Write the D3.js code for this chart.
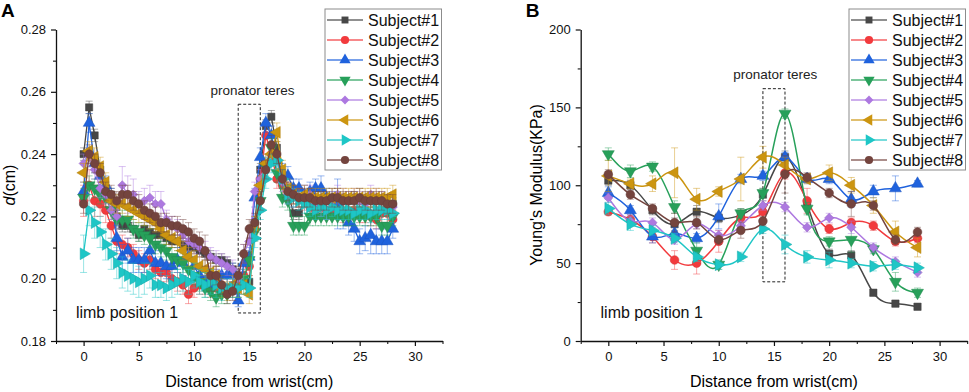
<!DOCTYPE html>
<html>
<head>
<meta charset="utf-8">
<script src="https://cdn.jsdelivr.net/npm/d3@7"></script>
<style>
body { margin: 0; background: #fff; }
svg { font-family: "Liberation Sans", Arial, sans-serif; }
</style>
</head>
<body>
<svg id="chart" width="969" height="392"></svg>
<script>
// ---- data ----
const subjects = ["Subject#1", "Subject#2", "Subject#3", "Subject#4", "Subject#5", "Subject#6", "Subject#7", "Subject#8"];

// panel A: thickness d(cm), measured every 0.5 cm
const posA = [0, 0.5, 1, 1.5, 2, 2.5, 3, 3.5, 4, 4.5, 5, 5.5, 6, 6.5, 7, 7.5, 8, 8.5, 9, 9.5,
  10, 10.5, 11, 11.5, 12, 12.5, 13, 13.5, 14, 14.5, 15, 15.5, 16, 16.5, 17, 17.5, 18, 18.5, 19, 19.5,
  20, 20.5, 21, 21.5, 22, 22.5, 23, 23.5, 24, 24.5, 25, 25.5, 26, 26.5, 27, 27.5, 28];

const thickS1 = [0.240,0.255,0.246,0.235,0.229,0.227,0.220,0.217,0.217,0.216,
  0.214,0.216,0.215,0.214,0.214,0.213,0.212,0.212,0.211,0.210,
  0.210,0.209,0.208,0.207,0.206,0.206,0.205,0.203,0.201,0.200,
  0.199,0.218,0.235,0.249,0.252,0.242,0.232,0.228,0.221,0.221,
  0.225,0.225,0.225,0.225,0.225,0.225,0.226,0.225,0.225,0.226,
  0.225,0.225,0.225,0.225,0.225,0.224,0.224];
const thickS2 = [0.225,0.230,0.225,0.224,0.222,0.217,0.212,0.211,0.210,0.208,
  0.206,0.205,0.206,0.203,0.202,0.202,0.200,0.199,0.198,0.195,
  0.197,0.198,0.198,0.197,0.197,0.198,0.197,0.197,0.199,0.201,
  0.204,0.216,0.232,0.246,0.240,0.232,0.230,0.228,0.227,0.226,
  0.225,0.223,0.222,0.223,0.222,0.222,0.223,0.221,0.221,0.222,
  0.221,0.221,0.220,0.219,0.221,0.221,0.219];
const thickS3 = [0.228,0.250,0.237,0.233,0.230,0.226,0.213,0.207,0.209,0.206,
  0.206,0.206,0.209,0.205,0.205,0.204,0.204,0.206,0.205,0.207,
  0.204,0.201,0.199,0.198,0.200,0.201,0.201,0.202,0.193,0.205,
  0.207,0.226,0.239,0.250,0.246,0.238,0.234,0.233,0.229,0.229,
  0.227,0.228,0.229,0.229,0.226,0.225,0.224,0.220,0.218,0.216,
  0.212,0.213,0.214,0.212,0.212,0.212,0.216];
const thickS4 = [0.226,0.230,0.229,0.227,0.226,0.222,0.219,0.219,0.219,0.216,
  0.215,0.214,0.213,0.211,0.210,0.209,0.207,0.206,0.205,0.203,
  0.201,0.199,0.197,0.196,0.194,0.195,0.195,0.197,0.197,0.200,
  0.206,0.215,0.225,0.236,0.242,0.234,0.226,0.225,0.217,0.217,
  0.217,0.220,0.220,0.220,0.220,0.220,0.220,0.220,0.220,0.220,
  0.220,0.220,0.220,0.220,0.217,0.217,0.220];
const thickS5 = [0.237,0.239,0.235,0.229,0.227,0.222,0.220,0.230,0.227,0.227,
  0.224,0.225,0.226,0.224,0.224,0.219,0.217,0.216,0.214,0.212,
  0.211,0.210,0.209,0.207,0.206,0.205,0.204,0.203,0.200,0.208,
  0.212,0.228,0.232,0.237,0.240,0.238,0.231,0.227,0.226,0.226,
  0.227,0.227,0.224,0.223,0.222,0.225,0.227,0.226,0.225,0.226,
  0.225,0.224,0.227,0.226,0.225,0.224,0.223];
const thickS6 = [0.234,0.241,0.239,0.236,0.231,0.225,0.224,0.224,0.223,0.222,
  0.221,0.220,0.219,0.218,0.216,0.214,0.213,0.212,0.209,0.207,
  0.206,0.204,0.203,0.202,0.201,0.197,0.196,0.198,0.197,0.198,
  0.195,0.217,0.230,0.237,0.240,0.247,0.235,0.229,0.227,0.226,
  0.227,0.226,0.226,0.226,0.226,0.226,0.226,0.226,0.226,0.226,
  0.226,0.226,0.226,0.226,0.226,0.226,0.227];
const thickS7 = [0.208,0.222,0.218,0.215,0.211,0.208,0.205,0.202,0.201,0.200,
  0.199,0.200,0.201,0.198,0.198,0.197,0.198,0.199,0.200,0.199,
  0.201,0.199,0.198,0.199,0.198,0.197,0.197,0.197,0.197,0.198,
  0.197,0.213,0.222,0.232,0.237,0.238,0.232,0.227,0.226,0.225,
  0.224,0.223,0.222,0.223,0.222,0.223,0.222,0.222,0.222,0.221,
  0.222,0.222,0.221,0.222,0.222,0.222,0.221];
const thickS8 = [0.224,0.240,0.237,0.234,0.228,0.227,0.225,0.227,0.227,0.225,
  0.224,0.222,0.221,0.220,0.218,0.218,0.217,0.217,0.216,0.215,
  0.213,0.212,0.209,0.201,0.201,0.198,0.195,0.196,0.201,0.208,
  0.216,0.218,0.225,0.235,0.243,0.240,0.232,0.228,0.227,0.226,
  0.226,0.226,0.225,0.225,0.225,0.226,0.226,0.225,0.225,0.225,
  0.226,0.225,0.225,0.225,0.225,0.224,0.224];

// panel A: standard deviations
const thickErr1 = [0.002,0.002,0.002,0.002,0.002,0.002,0.002,0.002,0.002,0.002,
  0.002,0.002,0.002,0.002,0.002,0.002,0.002,0.002,0.002,0.002,
  0.002,0.002,0.002,0.002,0.002,0.002,0.002,0.002,0.002,0.002,
  0.002,0.002,0.002,0.002,0.002,0.002,0.002,0.002,0.002,0.002,
  0.002,0.002,0.002,0.002,0.002,0.002,0.002,0.002,0.002,0.002,
  0.002,0.002,0.002,0.002,0.002,0.002,0.002];
const thickErr2 = [0.005,0.005,0.005,0.004,0.004,0.004,0.004,0.003,0.003,0.003,
  0.003,0.003,0.003,0.003,0.003,0.003,0.003,0.003,0.003,0.003,
  0.003,0.003,0.003,0.003,0.003,0.003,0.003,0.003,0.003,0.003,
  0.003,0.003,0.003,0.003,0.003,0.003,0.003,0.003,0.003,0.003,
  0.003,0.003,0.003,0.003,0.003,0.003,0.003,0.003,0.004,0.003,
  0.003,0.003,0.003,0.003,0.003,0.003,0.003];
const thickErr3 = [0.003,0.003,0.003,0.003,0.003,0.003,0.004,0.004,0.004,0.004,
  0.004,0.004,0.004,0.004,0.004,0.004,0.004,0.004,0.004,0.004,
  0.003,0.003,0.003,0.003,0.003,0.003,0.003,0.003,0.002,0.003,
  0.003,0.003,0.003,0.003,0.003,0.003,0.003,0.003,0.003,0.003,
  0.003,0.003,0.003,0.004,0.003,0.003,0.008,0.004,0.004,0.004,
  0.004,0.004,0.006,0.004,0.004,0.004,0.003];
const thickErr4 = [0.003,0.003,0.003,0.003,0.003,0.003,0.003,0.003,0.003,0.003,
  0.003,0.003,0.003,0.003,0.003,0.003,0.003,0.003,0.003,0.003,
  0.003,0.003,0.003,0.003,0.003,0.003,0.003,0.003,0.003,0.003,
  0.003,0.003,0.003,0.003,0.003,0.003,0.003,0.003,0.003,0.003,
  0.003,0.003,0.003,0.003,0.003,0.003,0.003,0.003,0.003,0.003,
  0.003,0.003,0.003,0.003,0.003,0.003,0.003];
const thickErr5 = [0.003,0.003,0.003,0.003,0.003,0.003,0.004,0.006,0.006,0.005,
  0.004,0.004,0.004,0.004,0.004,0.003,0.003,0.003,0.003,0.003,
  0.003,0.003,0.003,0.003,0.003,0.003,0.003,0.003,0.003,0.003,
  0.003,0.003,0.003,0.003,0.003,0.003,0.003,0.003,0.003,0.003,
  0.003,0.003,0.003,0.003,0.003,0.003,0.003,0.003,0.003,0.003,
  0.003,0.003,0.003,0.003,0.003,0.003,0.003];
const thickErr6 = [0.003,0.003,0.003,0.003,0.003,0.003,0.003,0.003,0.003,0.003,
  0.003,0.003,0.003,0.003,0.003,0.003,0.003,0.003,0.003,0.003,
  0.003,0.003,0.003,0.003,0.003,0.003,0.003,0.003,0.003,0.003,
  0.003,0.003,0.003,0.003,0.003,0.003,0.003,0.003,0.003,0.003,
  0.003,0.003,0.003,0.003,0.003,0.003,0.003,0.003,0.003,0.003,
  0.003,0.003,0.003,0.003,0.003,0.003,0.003];
const thickErr7 = [0.006,0.005,0.005,0.005,0.005,0.005,0.005,0.005,0.005,0.005,
  0.005,0.005,0.004,0.004,0.004,0.004,0.004,0.004,0.004,0.004,
  0.004,0.004,0.004,0.004,0.004,0.004,0.003,0.003,0.003,0.003,
  0.003,0.003,0.003,0.003,0.003,0.003,0.003,0.003,0.003,0.003,
  0.003,0.003,0.003,0.003,0.003,0.003,0.003,0.003,0.003,0.003,
  0.003,0.003,0.003,0.003,0.003,0.003,0.003];
const thickErr8 = [0.003,0.003,0.003,0.003,0.003,0.003,0.003,0.003,0.003,0.003,
  0.003,0.003,0.003,0.003,0.003,0.003,0.003,0.003,0.003,0.003,
  0.003,0.003,0.005,0.005,0.003,0.003,0.003,0.003,0.003,0.003,
  0.003,0.003,0.003,0.003,0.003,0.003,0.003,0.003,0.003,0.003,
  0.003,0.003,0.003,0.003,0.003,0.003,0.003,0.003,0.003,0.003,
  0.003,0.003,0.003,0.003,0.003,0.003,0.003];

// panel B: Young's modulus (KPa), measured every 2 cm
const posB = [0, 2, 4, 6, 8, 10, 12, 14, 16, 18, 20, 22, 24, 26, 28];
const modS1 = [103, 100, 84, 75, 83, 79, 81, 94, 118, 88, 56, 55, 31, 24, 22];
const modS2 = [83, 78, 67, 52, 50, 64, 79, 83, 108, 90, 72, 76, 74, 64, 66];
const modS3 = [95, 84, 67, 69, 66, 80, 104, 106, 118, 104, 104, 91, 96, 98, 101];
const modS4 = [120, 109, 112, 86, 58, 49, 82, 95, 146, 85, 64, 65, 59, 38, 31];
const modS5 = [92, 77, 76, 65, 75, 68, 74, 87, 86, 73, 79, 73, 60, 51, 44];
const modS6 = [106, 101, 101, 108, 91, 96, 104, 118, 113, 104, 108, 100, 87, 70, 60];
const modS7 = [85, 75, 71, 66, 54, 49, 54, 72, 62, 54, 52, 50, 48, 49, 47];
const modS8 = [107, 94, 85, 76, 76, 65, 71, 77, 107, 105, 95, 88, 87, 65, 70];

const modErr1 = [3, 3, 3, 4, 4, 3, 4, 4, 4, 3, 3, 3, 2, 2, 2];
const modErr2 = [2, 3, 4, 6, 7, 7, 5, 4, 4, 8, 3, 3, 3, 3, 3];
const modErr3 = [4, 3, 4, 4, 3, 8, 3, 3, 3, 3, 3, 5, 4, 8, 2];
const modErr4 = [4, 4, 3, 4, 5, 3, 3, 3, 3, 4, 3, 8, 3, 6, 3];
const modErr5 = [3, 3, 3, 3, 3, 3, 3, 3, 3, 3, 3, 4, 3, 3, 3];
const modErr6 = [10, 3, 5, 16, 7, 3, 14, 7, 5, 3, 5, 5, 5, 7, 6];
const modErr7 = [4, 4, 3, 3, 3, 3, 3, 3, 6, 4, 5, 3, 3, 3, 3];
const modErr8 = [3, 3, 3, 6, 4, 3, 5, 3, 12, 3, 3, 8, 3, 3, 3];

// axis ticks
const xTicks = [0, 5, 10, 15, 20, 25, 30];
const xMinor = [-2.5, 2.5, 7.5, 12.5, 17.5, 22.5, 27.5, 32.5];
const yTicksA = [0.18, 0.20, 0.22, 0.24, 0.26, 0.28];
const yMinorA = [0.19, 0.21, 0.23, 0.25, 0.27];
const yTicksB = [0, 50, 100, 150, 200];
const yMinorB = [25, 75, 125, 175];

// ---- styles ----
const colors = ["#474747", "#f23a3d", "#1f62dd", "#27a05a", "#ad78e0", "#cc9510", "#1ec6c6", "#74443e"];
const shapes = [d3.symbolSquare, d3.symbolCircle, d3.symbolTriangle, d3.symbolTriangle,
  d3.symbolSquare, d3.symbolTriangle, d3.symbolTriangle, d3.symbolCircle];
const rotations = [0, 0, 0, 180, 45, -90, 90, 0];
const symSizes = [40, 44, 46, 46, 32, 46, 46, 44];

const svg = d3.select("#chart");

function drawPanel(cfg) {
  const x = d3.scaleLinear().domain([-2.5, 32.5]).range([cfg.left, cfg.left + 386.5]);
  const y = d3.scaleLinear().domain(cfg.yDomain).range([341, 29.5]);
  const g = svg.append("g");

  // minor ticks
  g.append("g")
    .attr("transform", "translate(0,341)")
    .call(d3.axisBottom(x).tickValues(xMinor).tickSize(3).tickFormat(""))
    .call(a => a.select(".domain").remove());
  g.append("g")
    .attr("transform", `translate(${cfg.left},0)`)
    .call(d3.axisLeft(y).tickValues(cfg.yMinor).tickSize(3).tickFormat(""))
    .call(a => a.select(".domain").remove());

  // major axes
  const xa = g.append("g")
    .attr("transform", "translate(0,341)")
    .call(d3.axisBottom(x).tickValues(xTicks).tickSize(5).tickSizeOuter(0).tickPadding(6));
  const ya = g.append("g")
    .attr("transform", `translate(${cfg.left},0)`)
    .call(d3.axisLeft(y).tickValues(cfg.yTicks).tickSize(5).tickSizeOuter(0).tickPadding(5)
      .tickFormat(cfg.yFormat));
  [xa, ya].forEach(a => {
    a.selectAll("text").style("font-size", "13px").style("font-family", "'Liberation Sans', Arial, sans-serif").attr("fill", "#111");
    a.selectAll("line").attr("stroke", "#111").attr("stroke-width", 1.2);
    a.select(".domain").attr("stroke", "#111").attr("stroke-width", 1.3);
  });

  // panel letter
  g.append("text")
    .attr("x", cfg.left - 55).attr("y", 17)
    .style("font-size", "19px").style("font-weight", "bold")
    .text(cfg.letter);

  // axis titles
  g.append("text")
    .attr("x", x(15)).attr("y", 387)
    .attr("text-anchor", "middle")
    .style("font-size", "16px")
    .text("Distance from wrist(cm)");
  const yl = g.append("text")
    .attr("transform", `translate(${cfg.yLabelX},185) rotate(-90)`)
    .attr("text-anchor", "middle")
    .style("font-size", "16px");
  cfg.yLabel(yl);

  // dashed box for pronator teres
  g.append("rect")
    .attr("x", x(14)).attr("y", y(cfg.box[1]))
    .attr("width", x(16) - x(14)).attr("height", y(cfg.box[0]) - y(cfg.box[1]))
    .attr("fill", "none").attr("stroke", "#222").attr("stroke-width", 1)
    .attr("stroke-dasharray", "3,2");
  g.append("text")
    .attr("x", cfg.ptX).attr("y", cfg.ptY)
    .style("font-size", "13.5px").attr("fill", "#222")
    .text("pronator teres");
  g.append("text")
    .attr("x", x(-0.7)).attr("y", 318)
    .style("font-size", "16px").attr("fill", "#111")
    .text("limb position 1");

  // series
  const line = d3.line()
    .x(d => x(d.x)).y(d => y(d.v))
    .curve(cfg.curve);

  cfg.series.forEach((vals, i) => {
    const pts = cfg.pos.map((p, j) => ({ x: p, v: vals[j], e: cfg.errs[i][j] }));
    const sg = g.append("g");
    // error bars
    const eb = sg.append("g")
      .attr("stroke", colors[i]).attr("stroke-opacity", 0.45).attr("stroke-width", 1);
    pts.forEach(d => {
      eb.append("line").attr("x1", x(d.x)).attr("x2", x(d.x))
        .attr("y1", y(d.v - d.e)).attr("y2", y(d.v + d.e));
      eb.append("line").attr("x1", x(d.x) - 3.5).attr("x2", x(d.x) + 3.5)
        .attr("y1", y(d.v + d.e)).attr("y2", y(d.v + d.e));
      eb.append("line").attr("x1", x(d.x) - 3.5).attr("x2", x(d.x) + 3.5)
        .attr("y1", y(d.v - d.e)).attr("y2", y(d.v - d.e));
    });
    sg.append("path")
      .datum(pts)
      .attr("d", line)
      .attr("fill", "none")
      .attr("stroke", colors[i])
      .attr("stroke-width", cfg.lineW);
    sg.selectAll("path.mk")
      .data(pts)
      .join("path")
      .attr("class", "mk")
      .attr("d", d3.symbol().type(shapes[i]).size(symSizes[i] * cfg.symScale))
      .attr("transform", d => `translate(${x(d.x)},${y(d.v)}) rotate(${rotations[i]})`)
      .attr("fill", colors[i])
      .attr("stroke", d3.color(colors[i]).darker(0.4))
      .attr("stroke-width", 0.5);
  });

  // legend
  const lx = cfg.legX;
  const lg = g.append("g");
  lg.append("rect")
    .attr("x", lx).attr("y", 9).attr("width", 116.5).attr("height", 161)
    .attr("fill", "#fff").attr("stroke", "#8c8c8c").attr("stroke-width", 1);
  subjects.forEach((s, i) => {
    const cy = 20 + i * 20;
    lg.append("line")
      .attr("x1", lx + 2).attr("x2", lx + 38)
      .attr("y1", cy).attr("y2", cy)
      .attr("stroke", colors[i]).attr("stroke-opacity", 0.8).attr("stroke-width", 1.5);
    lg.append("path")
      .attr("d", d3.symbol().type(shapes[i]).size(symSizes[i] * 1.2))
      .attr("transform", `translate(${lx + 20},${cy}) rotate(${rotations[i]})`)
      .attr("fill", colors[i]);
    lg.append("text")
      .attr("x", lx + 43).attr("y", cy + 6)
      .style("font-size", "16px").attr("fill", "#111")
      .text(s);
  });
}

drawPanel({
  letter: "A",
  left: 56,
  yDomain: [0.18, 0.28],
  yTicks: yTicksA,
  yMinor: yMinorA,
  yFormat: d3.format(".2f"),
  yLabelX: 15,
  yLabel: t => {
    t.append("tspan").style("font-style", "italic").text("d");
    t.append("tspan").text("(cm)");
  },
  box: [0.189, 0.256],
  ptX: 210.5, ptY: 94.5,
  pos: posA,
  series: [thickS1, thickS2, thickS3, thickS4, thickS5, thickS6, thickS7, thickS8],
  errs: [thickErr1, thickErr2, thickErr3, thickErr4, thickErr5, thickErr6, thickErr7, thickErr8],
  curve: d3.curveLinear,
  lineW: 1.3,
  symScale: 1.3,
  legX: 325
});

drawPanel({
  letter: "B",
  left: 580.7,
  yDomain: [0, 200],
  yTicks: yTicksB,
  yMinor: yMinorB,
  yFormat: d3.format("d"),
  yLabelX: 541.5,
  yLabel: t => t.text("Young's Modulus(KPa)"),
  box: [38, 162],
  ptX: 733.3, ptY: 78.5,
  pos: posB,
  series: [modS1, modS2, modS3, modS4, modS5, modS6, modS7, modS8],
  errs: [modErr1, modErr2, modErr3, modErr4, modErr5, modErr6, modErr7, modErr8],
  curve: d3.curveNatural,
  lineW: 1.5,
  symScale: 1.35,
  legX: 849
});
</script>
</body>
</html>
